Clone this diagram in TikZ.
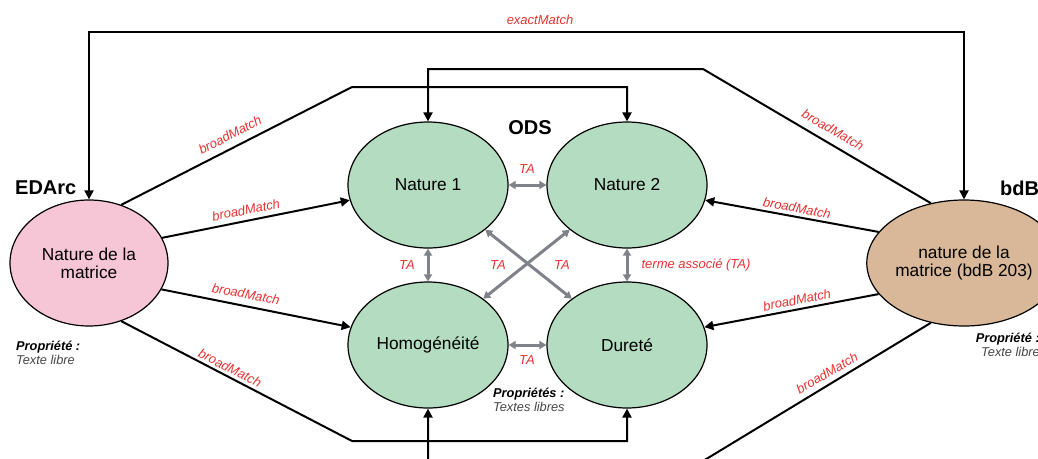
\documentclass[tikz,border=0pt]{standalone}
\usepackage{fontspec}
\setmainfont{Liberation Sans}
\usetikzlibrary{shapes.geometric,arrows.meta}
\definecolor{nodegreen}{RGB}{180,220,192}
\definecolor{nodepink}{RGB}{246,198,214}
\definecolor{nodetan}{RGB}{216,184,152}
\definecolor{labred}{RGB}{232,50,50}
\definecolor{tagray}{RGB}{128,130,138}
\definecolor{notegray}{RGB}{70,70,70}
\begin{document}
\begin{tikzpicture}[x=1pt,y=-1pt,
  concept/.style={ellipse,draw=black,line width=1.2pt,minimum width=160pt,minimum height=126pt,inner sep=0pt,align=center,font=\fontsize{17.3}{18}\selectfont},
  link/.style={draw=black,line width=2pt,-{Triangle[length=9pt,width=9pt]}},
  biglink/.style={draw=black,line width=2pt,{Triangle[length=9pt,width=9pt]}-{Triangle[length=9pt,width=9pt]}},
  ta/.style={draw=tagray,line width=3pt,{Triangle[length=7pt,width=8pt]}-{Triangle[length=7pt,width=8pt]}},
  lab/.style={text=labred,font=\fontsize{13}{14}\selectfont\itshape,inner sep=0pt},
  head/.style={font=\fontsize{20}{21}\selectfont\bfseries,inner sep=0pt},
  note/.style={font=\fontsize{12.8}{13.5}\selectfont,inner sep=0pt}
]
\useasboundingbox (0,0) rectangle (1038,458);
\fill[white] (0,0) rectangle (1038,458);
\clip (0,0) rectangle (1038,458);

% concepts
\node[concept,fill=nodegreen] (N1) at (428,185) {Nature 1};
\node[concept,fill=nodegreen] (N2) at (627,185) {Nature 2};
\node[concept,fill=nodegreen] (H) at (428,345) {Homogénéité};
\node[concept,fill=nodegreen] (D) at (627,345) {Dureté};
\node[concept,fill=nodepink,minimum width=158pt] (P) at (89,263) {Nature de la\\matrice};
\node[concept,fill=nodetan,minimum width=158pt] (B) at (964,263) {nature de la\\matrice (bdB 203)};

% headings
\node[head,anchor=west] (hEDArc) at (15,188) {EDArc};
\node[head,anchor=west] (hbdB) at (1000,188) {bdB};
\node[head] (hODS) at (530,128) {ODS};

% notes
\node[note,anchor=west,align=left] (noteP) at (16,353) {\bfseries\itshape Propriété :\\\itshape\color{notegray}Texte libre};
\node[note,anchor=east,align=right] (noteB) at (1040,345) {\bfseries\itshape Propriété :\\\itshape\color{notegray}Texte libre};
\node[note,anchor=west,align=left] (noteO) at (493,400) {\bfseries\itshape Propriétés :\\\itshape\color{notegray}Textes libres};

% corner coordinates
\coordinate (tl1) at (352,87);
\coordinate (tr1) at (703,69);
\coordinate (bl1) at (352,441);
\coordinate (br1) at (703,461);

% exactMatch
\draw[biglink] (P.north) -- ++(0,-167) -| (B.north);
\node[lab] (lExact) at (540,20) {exactMatch};

% broadMatch long paths
\draw[link] (P.61) -- (tl1) -| (N2.north);
\draw[link] (B.119) -- (tr1) -| (N1.north);
\draw[link] (P.299) -- (bl1) -| (D.south);
\draw[link] (B.241) -- (br1) -| (H.south);

% broadMatch straight
\draw[link] (P.19) -- (N1.191);
\draw[link] (P.340) -- (H.167);
\draw[link] (B.160) -- (N2.349);
\draw[link] (B.200) -- (D.13);

% broadMatch labels
\node[lab,rotate=27] (l1) at (230,135) {broadMatch};
\node[lab,rotate=11] (l2) at (246,210) {broadMatch};
\node[lab,rotate=-11] (l3) at (246,294) {broadMatch};
\node[lab,rotate=-27] (l4) at (230,368) {broadMatch};
\node[lab,rotate=-30] (l5) at (833,130) {broadMatch};
\node[lab,rotate=-11] (l6) at (797,208) {broadMatch};
\node[lab,rotate=11] (l7) at (797,300) {broadMatch};
\node[lab,rotate=30] (l8) at (827,373) {broadMatch};

% TA relations
\draw[ta] (N1.east) -- (N2.west);
\draw[ta] (H.east) -- (D.west);
\draw[ta] (N1.south) -- (H.north);
\draw[ta] (N2.south) -- (D.north);
\draw[ta] (N1.322) -- (D.140);
\draw[ta] (N2.218) -- (H.40);

\node[lab] (t1) at (527,169) {TA};
\node[lab] (t2) at (527,360) {TA};
\node[lab] (t3) at (407,265) {TA};
\node[lab] (t4) at (498,265) {TA};
\node[lab] (t5) at (562,265) {TA};
\node[lab] (t6) at (696,265) {terme associé (TA)};
\end{tikzpicture}
\end{document}
